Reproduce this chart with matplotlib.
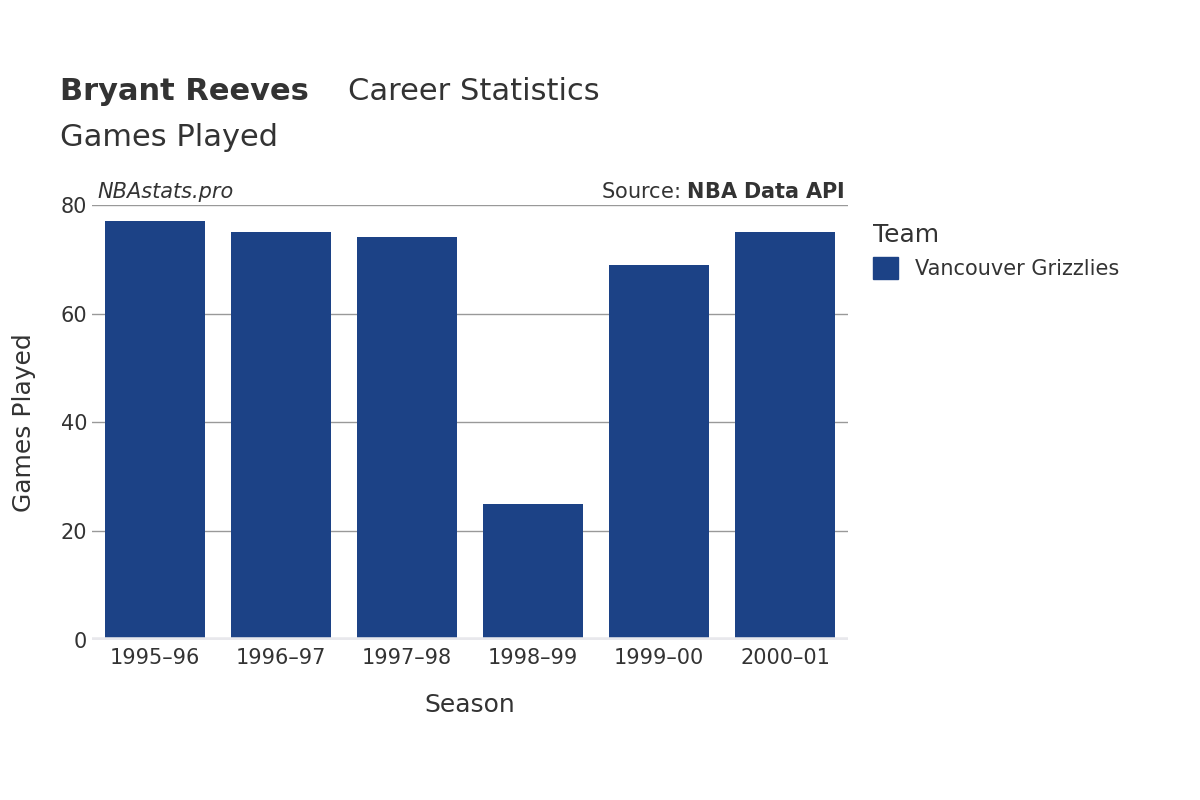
import matplotlib.pyplot as plt
from matplotlib.patches import Patch

seasons = ['1995–96', '1996–97', '1997–98', '1998–99', '1999–00', '2000–01']
games = [77, 75, 74, 25, 69, 75]
team = 'Vancouver Grizzlies'

plt.rcParams['font.family'] = ['DejaVu Sans']
fig = plt.figure(figsize=(12, 8), dpi=100)
ax = fig.add_axes([0.0767, 0.2, 0.63, 0.544])

x = range(len(seasons))
ax.bar(x, games, width=0.79, color='#1c4286', zorder=2)
ax.set_xlim(-0.5, len(seasons) - 0.5)
ax.set_ylim(0, 80)
ax.set_yticks([0, 20, 40, 60, 80])
ax.set_xticks(list(x))
ax.set_xticklabels(seasons)
ax.tick_params(length=0, labelsize=15, colors='#333333')
ax.tick_params(axis='x', pad=6)
ax.grid(axis='y', color='#999999', linewidth=1, zorder=0)
for s in ax.spines.values():
    s.set_visible(False)
ax.axhline(0, color='#e8e8ec', linewidth=4, zorder=3)

ax.set_xlabel('Season', fontsize=18, color='#333333', labelpad=18)
ax.set_ylabel('Games Played', fontsize=18, color='#333333', labelpad=18)

fig.text(0.05, 0.875, 'Bryant Reeves', fontsize=22, fontweight='bold', color='#333333')
fig.text(0.29, 0.875, 'Career Statistics', fontsize=22, color='#333333')
fig.text(0.05, 0.818, 'Games Played', fontsize=22, color='#333333')
fig.text(0.081, 0.752, 'NBAstats.pro', fontsize=15, style='italic', color='#333333')
fig.text(0.704, 0.752, 'Source: $\\bf{NBA\\ Data\\ API}$', fontsize=15, color='#333333', ha='right')

leg = fig.legend(handles=[Patch(color='#1c4286', label=team)], loc='upper left',
                 bbox_to_anchor=(0.712, 0.745), frameon=False, title='Team',
                 fontsize=15, title_fontsize=18, handlelength=1.2, handleheight=1.2)
leg._legend_box.align = 'left'
for t in leg.get_texts():
    t.set_color('#333333')
leg.get_title().set_color('#333333')

fig.savefig('out.png')
